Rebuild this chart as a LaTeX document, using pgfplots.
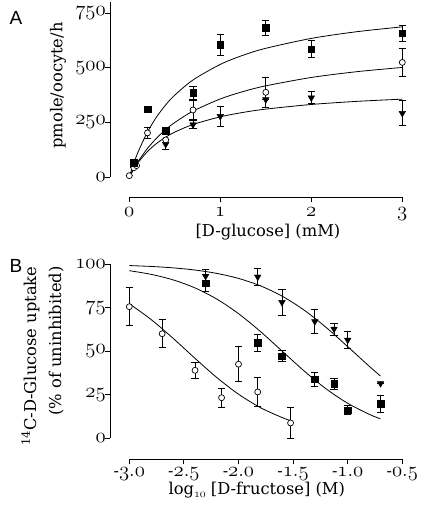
\documentclass[border=0pt]{standalone}
\usepackage[no-math]{fontspec}
\setmainfont{DejaVu Serif}
\newfontfamily\panelfont{Liberation Sans}
\usepackage{pgfplots}
\pgfplotsset{compat=1.18}
\newcommand{\os}[1]{{\fontsize{20.5}{23}\usefont{OML}{cmm}{m}{it}#1}}
\newcommand{\pt}{\char58 }
\pgfplotsset{
  prism/.style={
    scale only axis, clip=false,
    axis x line=bottom, axis y line=left,
    axis line style={-, line width=0.9pt},
    tick align=outside, major tick length=5pt,
    tick style={line width=0.9pt, black},
    tick label style={font=\fontsize{16}{19}\selectfont},
    yticklabel style={inner sep=1pt, xshift=2pt},
    label style={font=\fontsize{16.3}{19}\selectfont},
    error bars/error bar style={line width=0.8pt, black},
    error bars/error mark options={rotate=90, line width=0.8pt, black, mark size=3.6pt},
  },
  sq/.style={only marks, mark=square*, mark size=3.3pt, mark options={fill=black, draw=black},
    error bars/.cd, y dir=both, y explicit},
  ci/.style={only marks, mark=*, mark size=3pt, mark options={fill=white, draw=black, line width=0.7pt},
    error bars/.cd, y dir=both, y explicit},
  tr/.style={only marks, mark=triangle*, mark size=3.8pt, mark options={fill=black, draw=black, rotate=180},
    error bars/.cd, y dir=both, y explicit},
  fit/.style={black, line width=0.8pt, smooth, no marks},
}
\begin{document}
\begin{tikzpicture}[x=1pt,y=1pt]
\path[use as bounding box] (0,0) rectangle (420,518);
\node[font=\panelfont\fontsize{19}{20}\selectfont] at (16,500) {A};
\node[font=\panelfont\fontsize{19}{20}\selectfont] at (16,252) {B};
% ---------------- Panel A ----------------
\begin{axis}[prism,
  at={(129.3pt,341pt)}, anchor=south west,
  width=273pt, height=174.6pt,
  xmin=0, xmax=3, ymin=0, ymax=800,
  axis x line shift=20pt, axis y line shift=19.3pt,
  xtick={0,1,2,3}, xticklabels={\os{0},\os{1},\os{2},\os{3}},
  xticklabel style={yshift=-2pt},
  ytick={0,250,500,750}, yticklabels={\os{0},\os{250},\os{500},\os{750}},
  xlabel={[D-glucose] (mM)},
  ylabel={pmole/oocyte/h},
  xlabel style={at={(axis description cs:0.508,-0.318)}, anchor=center},
  ylabel style={at={(axis description cs:-0.261,0.524)}, anchor=center},
]
\addplot[fit] coordinates {(0,0) (0.05,63.5) (0.1,117.9) (0.2,206.4) (0.3,275.2) (0.4,330.2) (0.5,375.2) (0.7,444.5) (1.0,515.9) (1.25,557.8) (1.5,589.6) (2.0,635.0) (2.5,665.7) (3.0,687.9)};
\addplot[fit] coordinates {(0,0) (0.05,38.9) (0.1,73.2) (0.2,131.2) (0.3,178.2) (0.4,217.1) (0.5,249.8) (0.7,301.8) (1.0,357.6) (1.25,391.4) (1.5,417.7) (2.0,456.0) (2.5,482.5) (3.0,502.0)};
\addplot[fit] coordinates {(0,0) (0.05,36.9) (0.1,67.9) (0.2,116.8) (0.3,153.7) (0.4,182.5) (0.5,205.7) (0.7,240.6) (1.0,275.7) (1.25,295.9) (1.5,311.0) (2.0,332.3) (2.5,346.5) (3.0,356.7)};
\addplot[tr] table[x=x, y=y, y error=e] {
x y e
0.4 150 22
0.7 240 18
1.0 278 46
1.5 355 0
2.0 363 27
3.0 292 57
};
\addplot[ci] table[x=x, y=y, y error=e] {
x y e
0 6 0
0.05 42 0
0.08 52 0
0.2 202 27
0.4 170 0
0.7 307 43
1.5 388 68
3.0 525 62
};
\addplot[sq] table[x=x, y=y, y error=e] {
x y e
0.05 65 0
0.2 310 0
0.4 212 0
0.7 386 30
1.0 605 48
1.5 683 35
2.0 586 40
3.0 658 36
};
\end{axis}
% ---------------- Panel B ----------------
\begin{axis}[prism,
  at={(129.3pt,79.7pt)}, anchor=south west,
  width=273pt, height=174.3pt,
  xmin=-3, xmax=-0.5, ymin=0, ymax=100,
  axis x line shift=21pt, axis y line shift=19.3pt,
  xtick={-3,-2.5,-2,-1.5,-1,-0.5},
  xticklabels={-\os{3\pt0},-\os{2\pt5},-\os{2\pt0},-\os{1\pt5},-\os{1\pt0},-\os{0\pt5}},
  ytick={0,25,50,75,100}, yticklabels={\os{0},\os{25},\os{50},\os{75},\os{100}},
  xlabel={log\raisebox{-3pt}{{\fontsize{12}{13}\usefont{OML}{cmm}{m}{it}10}} [D-fructose] (M)},
  ylabel={\textsuperscript{14}C-D-Glucose uptake\\[6pt](\% of uninhibited)},
  xlabel style={at={(axis description cs:0.467,-0.300)}, anchor=center},
  ylabel style={at={(axis description cs:-0.318,1.006)}, anchor=east, align=right},
]
\addplot[fit] coordinates {(-3.0,99.11) (-2.8,98.59) (-2.6,97.79) (-2.4,96.54) (-2.2,94.62) (-2.0,91.73) (-1.8,87.50) (-1.6,81.53) (-1.4,73.59) (-1.2,63.74) (-1.0,52.59) (-0.8,41.17) (-0.7,35.73)};
\addplot[fit] coordinates {(-3.0,96.17) (-2.8,94.06) (-2.6,90.91) (-2.4,86.32) (-2.2,79.92) (-2.0,71.53) (-1.8,61.31) (-1.6,50) (-1.4,38.69) (-1.2,28.47) (-1.0,20.08) (-0.8,13.68) (-0.7,11.18)};
\addplot[fit] coordinates {(-3.0,77.21) (-2.8,68.13) (-2.6,57.43) (-2.4,45.98) (-2.2,34.94) (-2.0,25.31) (-1.8,17.61) (-1.6,11.89) (-1.53,10.30)};
\addplot[ci] table[x=x, y=y, y error=e] {
x y e
-3.0 75.5 11
-2.699 60 8
-2.398 39 4.5
-2.155 23.3 5.5
-2.0 42.5 10
-1.824 26.6 8.5
-1.523 8.8 9
};
\addplot[sq] table[x=x, y=y, y error=e] {
x y e
-2.301 89 5
-1.824 54.7 5
-1.602 47.2 3
-1.301 34 4
-1.125 31.2 3
-1.0 16.2 2.5
-0.699 19.7 5
};
\addplot[tr] table[x=x, y=y, y error=e] {
x y e
-2.301 93 4
-1.824 92.6 5
-1.602 78 7.4
-1.301 67 7
-1.125 62.7 3.5
-1.0 56.4 4.8
-0.699 31.5 0
};
\end{axis}
\end{tikzpicture}
\end{document}
